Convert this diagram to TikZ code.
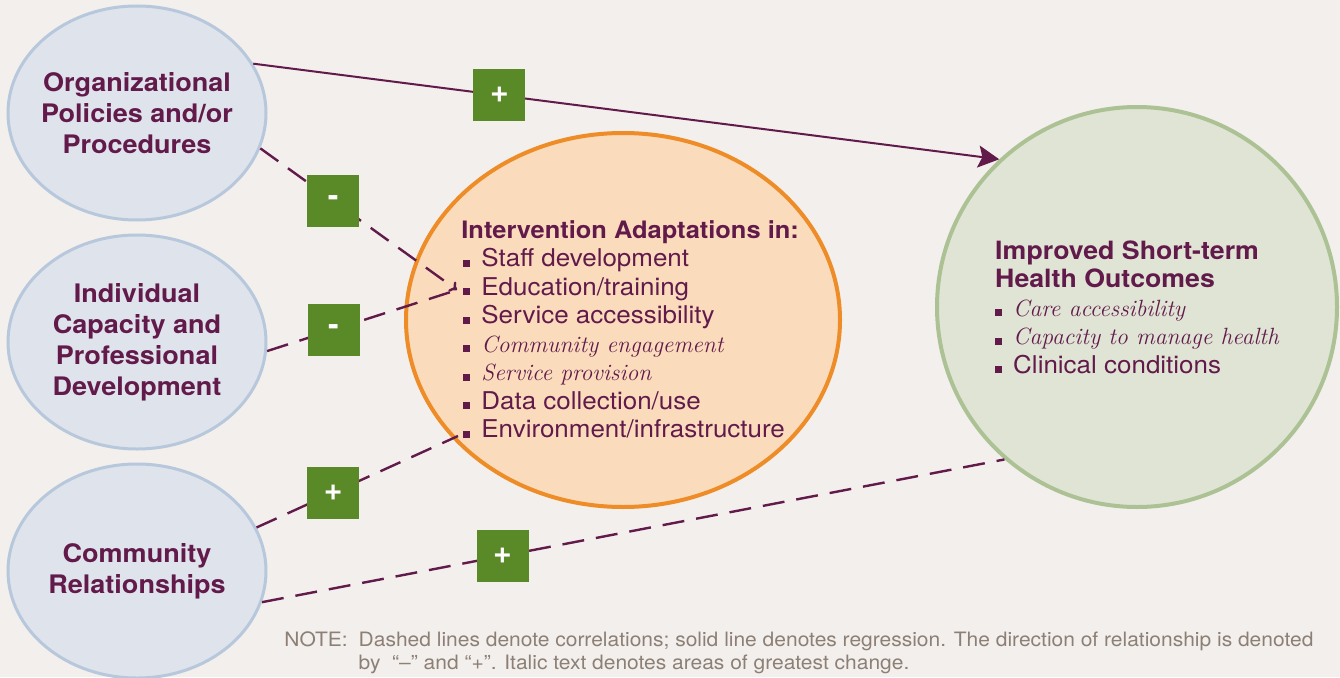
\documentclass[tikz,border=0pt]{standalone}
\usepackage{fontspec}
\setsansfont{TeX Gyre Heros}
\newfontfamily\listfont[FakeStretch=1.06]{TeX Gyre Heros}
\usetikzlibrary{shapes.geometric,arrows.meta}

\definecolor{paper}{HTML}{F2EFEC}
\definecolor{factorfill}{HTML}{DFE3EB}
\definecolor{factorline}{HTML}{B7C8DC}
\definecolor{adaptfill}{HTML}{FADCBD}
\definecolor{adaptline}{HTML}{EE8C27}
\definecolor{outfill}{HTML}{DFE4D5}
\definecolor{outline}{HTML}{ADC294}
\definecolor{plum}{HTML}{621A4B}
\definecolor{signgreen}{HTML}{5A8A28}
\definecolor{notegray}{HTML}{8C7F75}

% square bullet in front of each item
\newcommand{\sqb}{\rule{7pt}{7pt}\hspace{11pt}}
\newcommand{\itl}[1]{{\rmfamily\itshape\fontsize{23.5}{28.5}\selectfont #1}}

\begin{document}
\begin{tikzpicture}[x=1pt,y=-1pt,node distance=229pt,thick,
    factor/.style={ellipse,draw=factorline,fill=factorfill,line width=3pt,minimum width=258pt,minimum height=214pt,inner sep=-20pt,align=center,text=plum,font=\listfont\bfseries\fontsize{25.5}{31}\selectfont},
    sign/.style={fill=signgreen,minimum size=52pt,inner sep=0pt,text=white,font=\sffamily\bfseries\fontsize{32}{32}\selectfont},
    link/.style={plum,line width=2.4pt,dash pattern=on 22pt off 12pt},
    regress/.style={plum,line width=2pt,-{Stealth[length=21pt,width=22pt,inset=4pt]}}]

    \fill[paper] (0,0) rectangle (1340,677);
    \useasboundingbox (0,0) rectangle (1340,677);

    % factors on the left
    \node[factor] (org) at (137,113) {Organizational\\Policies and/or\\Procedures};
    \node[factor] (ind) [below of=org] {Individual\\Capacity and\\Professional\\Development};
    \node[factor] (com) [below of=ind] {Community\\Relationships};

    % adaptations
    \node[ellipse,draw=adaptline,fill=adaptfill,line width=4pt,minimum width=434pt,minimum height=374pt] (adapt) at (623,320) {};
    \node[anchor=north west,inner sep=0pt,align=left,text=plum,font=\listfont\fontsize{24.5}{28.5}\selectfont] (adaptlist) at (461,220)
        {{\fontsize{24}{28.5}\selectfont\bfseries Intervention Adaptations in:}\\
         \hspace{2pt}\sqb Staff development\\
         \hspace{2pt}\sqb Education/training\\
         \hspace{2pt}\sqb Service accessibility\\
         \hspace{2pt}\sqb\itl{Community engagement}\\
         \hspace{2pt}\sqb\itl{Service provision}\\
         \hspace{2pt}\sqb Data collection/use\\
         \hspace{2pt}\sqb Environment/infrastructure};
    \coordinate (edu) at (457,290);
    \coordinate (env) at (458,436);

    % outcomes
    \node[circle,draw=outline,fill=outfill,line width=4pt,minimum size=400pt,inner sep=0pt,align=left,text=plum,font=\listfont\fontsize{24.5}{28.5}\selectfont] (out) at (1137,307)
        {{\fontsize{25.2}{28.5}\selectfont\bfseries Improved Short-term}\\
         {\fontsize{25.2}{28.5}\selectfont\bfseries Health Outcomes}\\
         \sqb\itl{Care accessibility}\\
         \sqb\itl{Capacity to manage health}\\
         \sqb Clinical conditions};

    \path
        (org.23) edge[regress] node[sign,pos=.33] {+} (out.133)
        (org.-16) edge[link,-{To[length=7pt,width=12pt]}] node[sign,pos=.37] {-} (edu)
        (ind.-4) edge[link] node[sign,pos=.35] {-} (edu)
        (com.20) edge[link] node[sign,pos=.38] {+} (env)
        (com.-14) edge[link] node[sign,pos=.324] {+} (out.-131);

    \node[anchor=north west,inner sep=0pt,text=notegray,font=\listfont\fontsize{19.8}{23}\selectfont] (note) at (284,630)
        {\begin{tabular}{@{}l@{\hspace{11pt}}l@{}}
         NOTE: & Dashed lines denote correlations; solid line denotes regression. The direction of relationship is denoted\\
               & by \ “–” and “+”. Italic text denotes areas of greatest change.
         \end{tabular}};
\end{tikzpicture}
\end{document}
